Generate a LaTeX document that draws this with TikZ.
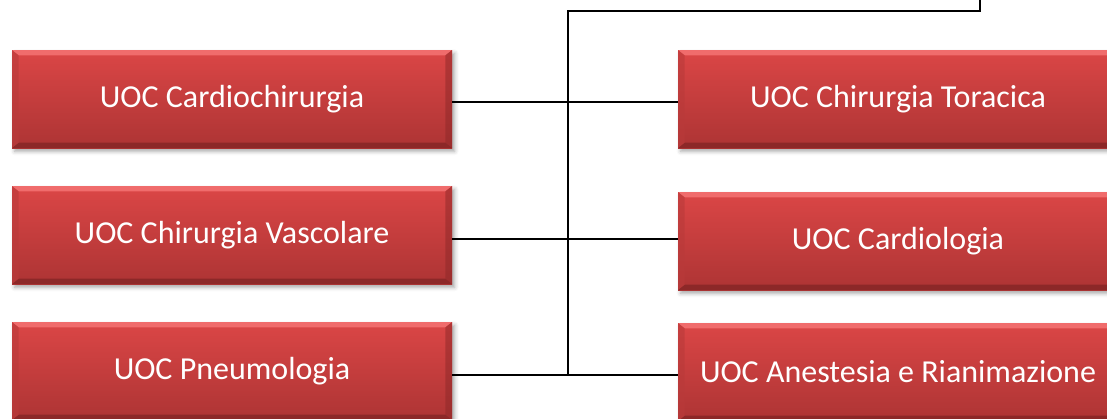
\documentclass[tikz,border=0pt]{standalone}
\usepackage{fontspec}
\setmainfont{Carlito}
\usetikzlibrary{shadows.blur}

\definecolor{uoctop}{HTML}{DB4646}
\definecolor{uocbot}{HTML}{AD3434}
\definecolor{uoclight}{HTML}{F06C6C}
\definecolor{uocdark}{HTML}{8C2828}
\definecolor{uocside}{HTML}{B93A3A}

\tikzset{
  uoc/.style={
    minimum width=330pt, minimum height=73.5pt, inner sep=0pt,
    top color=uoctop, bottom color=uocbot, text=white,
    font=\fontsize{24}{28}\selectfont,
    blur shadow={shadow xshift=2pt, shadow yshift=-2.5pt,
      shadow blur radius=3pt, shadow opacity=35},
    path picture={
      % bordo smussato
      \fill[uoclight] (path picture bounding box.north west)
        -- (path picture bounding box.north east)
        -- ([xshift=-5pt, yshift=-4pt]path picture bounding box.north east)
        -- ([xshift=5pt, yshift=-4pt]path picture bounding box.north west) -- cycle;
      \fill[uocdark] (path picture bounding box.south west)
        -- (path picture bounding box.south east)
        -- ([xshift=-5pt, yshift=4pt]path picture bounding box.south east)
        -- ([xshift=5pt, yshift=4pt]path picture bounding box.south west) -- cycle;
      \fill[uocside, opacity=0.6] (path picture bounding box.north west)
        -- ([xshift=5pt, yshift=-4pt]path picture bounding box.north west)
        -- ([xshift=5pt, yshift=4pt]path picture bounding box.south west)
        -- (path picture bounding box.south west) -- cycle;
      \fill[uocdark, opacity=0.5] (path picture bounding box.north east)
        -- ([xshift=-5pt, yshift=-4pt]path picture bounding box.north east)
        -- ([xshift=-5pt, yshift=4pt]path picture bounding box.south east)
        -- (path picture bounding box.south east) -- cycle;
    }
  },
  link/.style={black, line width=1.9pt}
}

\begin{document}
\begin{tikzpicture}[x=0.75pt, y=-0.75pt]
  \useasboundingbox (0,0) rectangle (1107,418);
  \clip (0,0) rectangle (1107,418);

  % Unità a sinistra
  \foreach \nm/\y/\lab in {
    cardio/99/UOC Cardiochirurgia,
    vasc/235/UOC Chirurgia Vascolare,
    pneumo/371/UOC Pneumologia} {
    \node[uoc] (\nm) at (232, \y) {\lab};
  }

  % Unità a destra
  \foreach \nm/\y/\lab in {
    torac/99/UOC Chirurgia Toracica,
    cardiol/241/UOC Cardiologia,
    anest/372/UOC Anestesia e Rianimazione} {
    \node[uoc] (\nm) at (898, \y) {\lab};
  }

  % Linea verticale e collegamento in alto
  \coordinate (top) at (568, 11);
  \coordinate (up) at (980, 0);
  \coordinate (j1) at (568, 102);
  \coordinate (j2) at (568, 239);
  \coordinate (j3) at (568, 375);
  \draw[link] (up) |- (top) -- (j3);

  % Collegamenti orizzontali
  \draw[link] (cardio.east |- j1) -- (torac.west |- j1);
  \draw[link] (vasc.east |- j2) -- (cardiol.west |- j2);
  \draw[link] (pneumo.east |- j3) -- (anest.west |- j3);
\end{tikzpicture}
\end{document}
